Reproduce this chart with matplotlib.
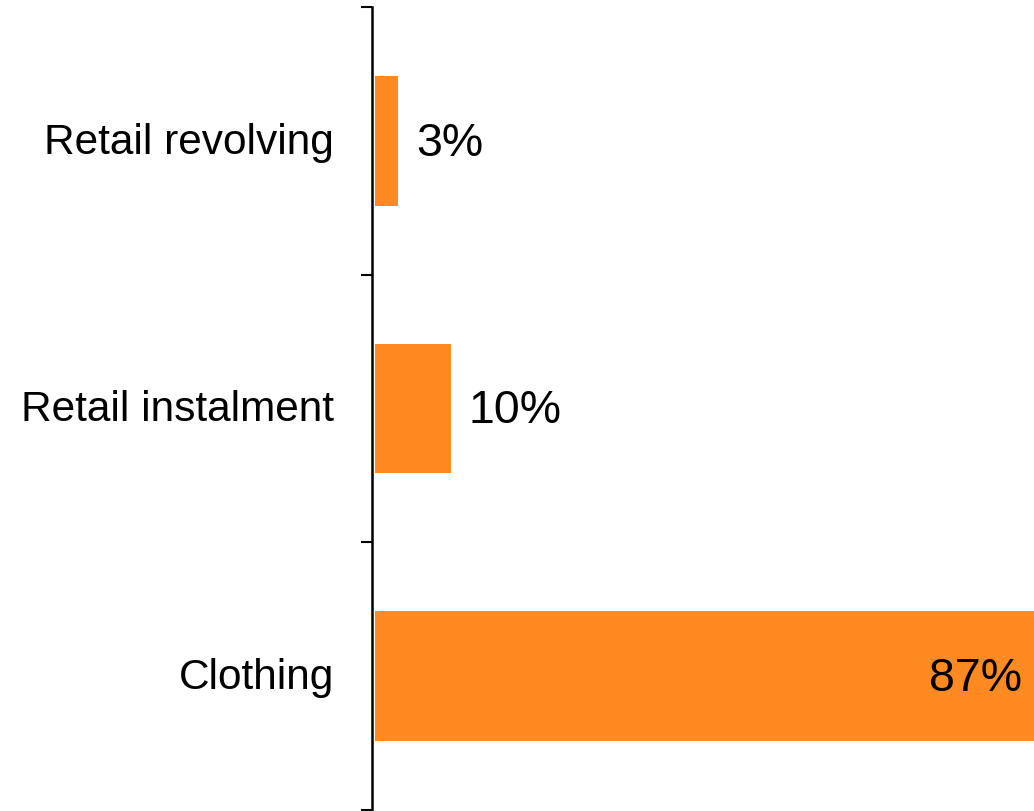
import matplotlib.pyplot as plt

plt.rcParams['font.family'] = ['Liberation Sans', 'DejaVu Sans']

categories = ['Clothing', 'Retail instalment', 'Retail revolving']
values = [87, 10, 3]
labels = ['87%', '10%', '3%']
bar_color = '#FF8A22'

fig = plt.figure(figsize=(10.34, 8.12), dpi=100)
ax = fig.add_axes([372 / 1034, 1 - 811 / 812, 1 - 372 / 1034, 803 / 812])

pos = range(len(categories))
ax.barh(pos, values, height=0.485, color=bar_color, left=0)
ax.set_xlim(-0.4, 87)
ax.set_ylim(-0.5, len(categories) - 0.5)

for i, (v, lab) in enumerate(zip(values, labels)):
    if v > 50:
        ax.annotate(lab, (v, i), xytext=(-12, -2), textcoords='offset pixels',
                    ha='right', va='center', fontsize=33.5, color='black')
    else:
        ax.annotate(lab, (v, i), xytext=(18, -2), textcoords='offset pixels',
                    ha='left', va='center', fontsize=33.5, color='black')
    ax.annotate(categories[i], (0, i), xycoords=('axes fraction', 'data'),
                xytext=(-38, -1), textcoords='offset pixels',
                ha='right', va='center', fontsize=30.5, color='black')

ax.set_yticks([-0.5, 0.5, 1.5, 2.5])
ax.set_yticklabels([])
ax.tick_params(axis='y', length=8, width=1.5, color='black')
ax.set_xticks([])
for s in ['top', 'right', 'bottom']:
    ax.spines[s].set_visible(False)
ax.spines['left'].set_linewidth(1.8)
ax.spines['left'].set_position(('axes', 0))

fig.savefig('out.png', dpi=100)
